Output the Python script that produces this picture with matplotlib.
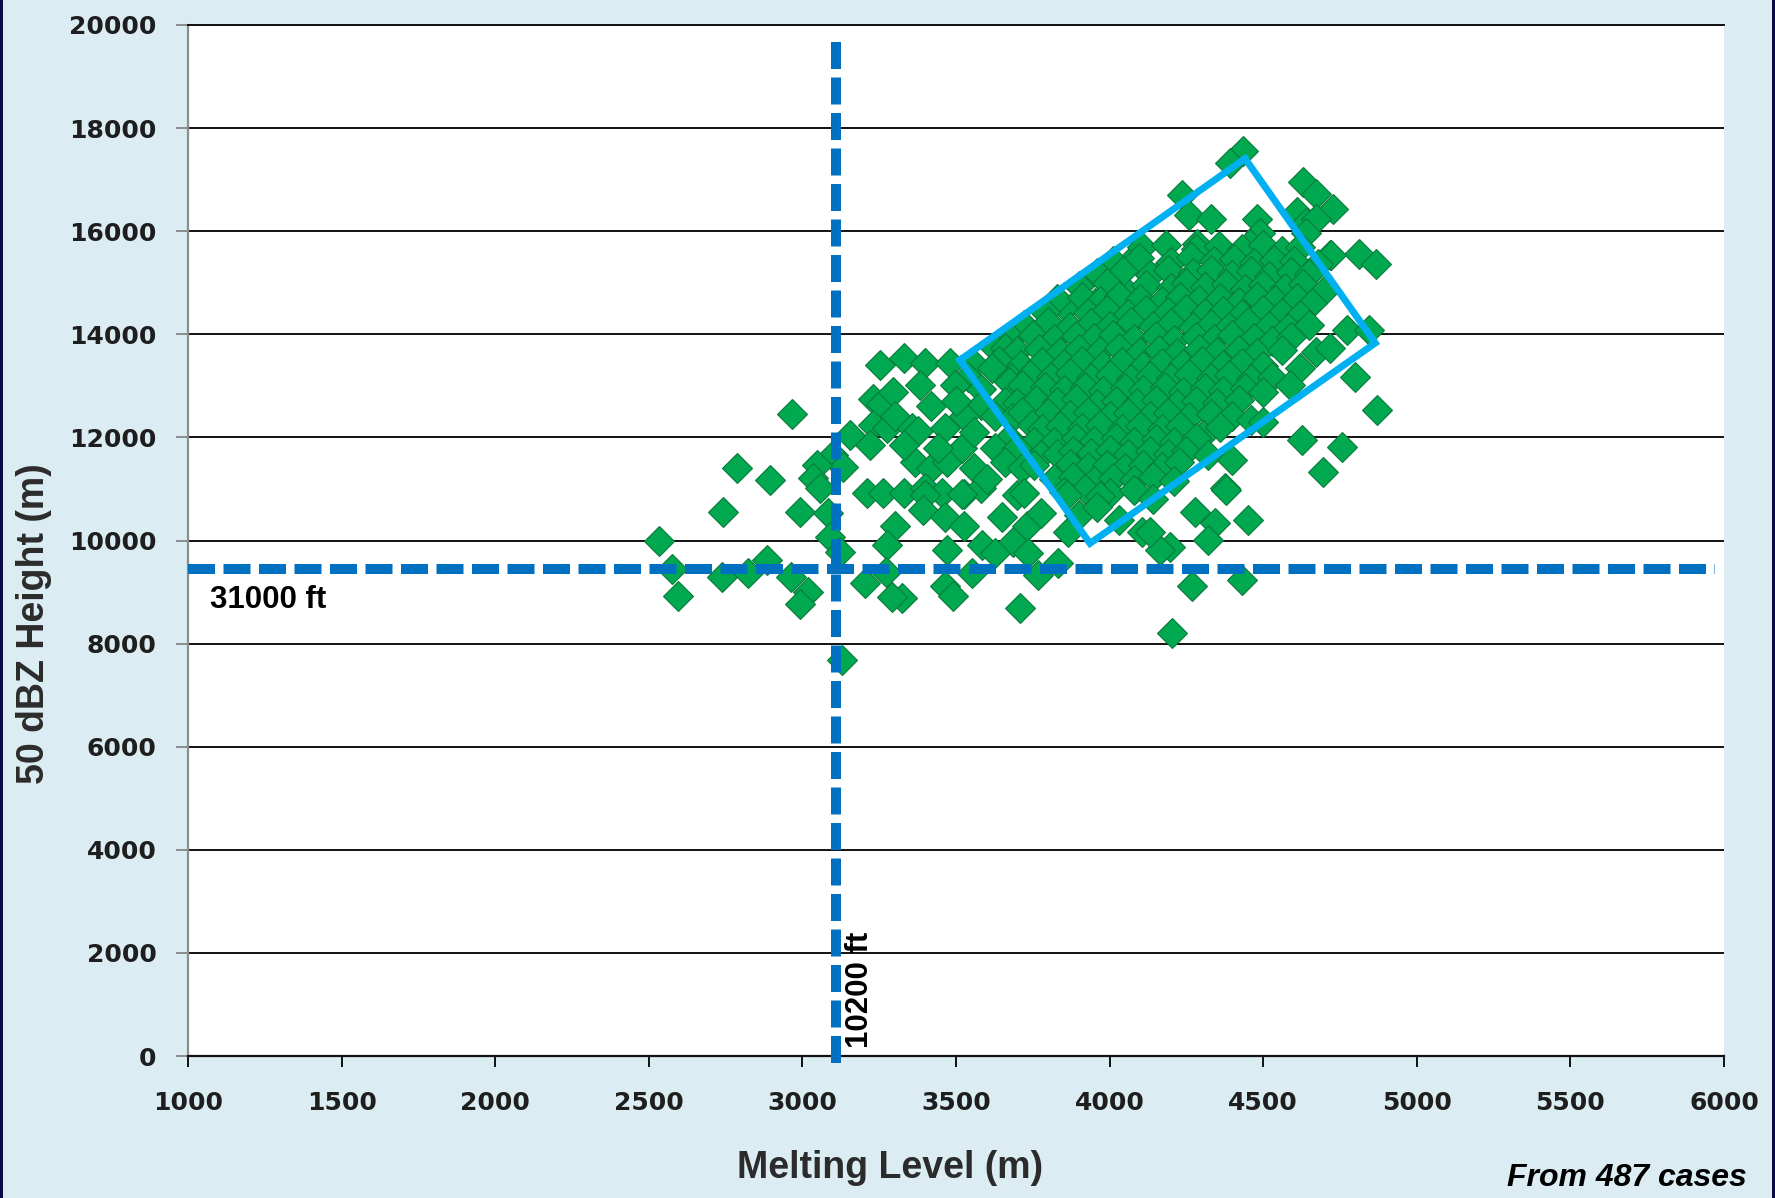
import matplotlib.pyplot as plt
from matplotlib.patches import Rectangle

# melting level (m) vs height of the 50 dBZ echo top (m), one diamond per case
core_pts = [
    (4433, 17560), (4393, 17330),
    (4629, 16950), (4673, 16730), (4235, 16700), (4728, 16440), (4610, 16380),
    (4260, 16310), (4330, 16240), (4481, 16240), (4640, 16155), (4673, 16240),
    (4640, 15960), (4489, 15960), (4456, 15760), (4283, 15760), (4190, 15340),
    (4717, 15540), (4813, 15560), (4868, 15365), (4083, 15500), (3995, 15100),
    (4050, 14860), (3952, 14600), (4106, 14600), (3800, 14500), (3855, 14530),
    (4105, 15690), (4185, 15740), (4280, 15660), (4355, 15720), (4430, 15650),
    (4500, 15730), (4560, 15610), (4720, 15540), (4620, 15700),
    (4010, 15420), (4095, 15480), (4200, 15400), (4265, 15500), (4340, 15430),
    (4405, 15470), (4470, 15380), (4535, 15450), (4600, 15420), (4680, 15360),
    (3960, 15180), (4045, 15230), (4130, 15150), (4190, 15250), (4270, 15190),
    (4330, 15240), (4400, 15160), (4460, 15220), (4520, 15130), (4590, 15210),
    (4650, 15170),
    (3900, 14930), (3990, 14990), (4120, 14960), (4200, 14900), (4250, 15000),
    (4310, 14920), (4380, 14970), (4440, 14880), (4500, 14950), (4570, 14900),
    (4630, 14980), (4700, 14860),
    (3830, 14680), (3910, 14720), (3970, 14650), (4030, 14740), (4100, 14690),
    (4170, 14640), (4230, 14730), (4290, 14670), (4360, 14710), (4420, 14630),
    (4480, 14720), (4540, 14660), (4610, 14700), (4660, 14600),
    (3790, 14440), (3930, 14420), (3990, 14480), (4060, 14400), (4120, 14470),
    (4190, 14430), (4250, 14490), (4310, 14410), (4370, 14460), (4430, 14390),
    (4500, 14470), (4560, 14420), (4620, 14380),
    (3720, 14180), (3800, 14230), (3870, 14150), (3940, 14220), (4000, 14170),
    (4070, 14240), (4140, 14160), (4200, 14210), (4270, 14140), (4330, 14200),
    (4390, 14150), (4450, 14230), (4520, 14170), (4580, 14120), (4650, 14190),
    (4773, 14090), (4846, 14090),
    (3680, 13930), (3750, 13980), (3820, 13900), (3890, 13960), (3950, 13920),
    (4010, 13990), (4080, 13910), (4150, 13970), (4210, 13890), (4280, 13950),
    (4340, 13900), (4400, 13980), (4470, 13920), (4530, 13870), (4590, 13940),
    (3627, 13740), (3660, 13740), (3700, 13680), (3770, 13720), (3840, 13650),
    (3900, 13710), (3970, 13670), (4030, 13730), (4100, 13660), (4160, 13700),
    (4220, 13640), (4290, 13720), (4350, 13660), (4420, 13700), (4480, 13630),
    (4560, 13690), (4673, 13650), (4717, 13740),
    (3560, 13430), (3640, 13480), (3710, 13400), (3780, 13460), (3850, 13420),
    (3910, 13490), (3980, 13410), (4040, 13470), (4110, 13390), (4170, 13450),
    (4240, 13420), (4300, 13480), (4370, 13400), (4430, 13440), (4500, 13380),
    (4620, 13350),
    (3540, 13180), (3616, 13350), (3680, 13150), (3740, 13210), (3810, 13170),
    (3870, 13240), (3940, 13160), (4000, 13220), (4070, 13140), (4130, 13200),
    (4200, 13160), (4260, 13230), (4330, 13150), (4390, 13210), (4460, 13130),
    (4530, 13180), (4588, 13015), (4798, 13170),
    (3580, 12940), (3671, 13080), (3715, 13015), (3790, 12970), (3850, 12920),
    (3920, 12980), (3980, 12900), (4050, 12960), (4110, 12910), (4180, 12970),
    (4240, 12890), (4310, 12950), (4370, 12900), (4440, 12960), (4500, 12880),
    (3582, 12620), (3660, 12690), (3700, 12660), (3760, 12720), (3830, 12680),
    (3890, 12740), (3960, 12650), (4020, 12710), (4090, 12670), (4150, 12730),
    (4220, 12640), (4280, 12700), (4350, 12660), (4420, 12720),
    (3627, 12420), (3682, 12380), (3715, 12490), (3800, 12480), (3870, 12430),
    (3930, 12490), (4000, 12410), (4060, 12470), (4130, 12420), (4190, 12480),
    (4260, 12400), (4330, 12450), (4400, 12410), (4460, 12330), (4870, 12530),
    (3748, 12250), (3780, 12170), (3840, 12230), (3910, 12180), (3970, 12240),
    (4040, 12160), (4100, 12220), (4170, 12170), (4230, 12230), (4305, 12050),
    (4360, 12200), (4500, 12290),
    (3671, 11985), (3755, 11920), (3820, 11920), (3890, 11980), (3950, 11930),
    (4020, 11990), (4080, 11910), (4150, 11970), (4210, 11920), (4280, 11980),
    (4625, 11940),
    (3627, 11790), (3700, 11790), (3778, 11655), (3830, 11680), (3880, 11740),
    (3940, 11690), (4000, 11750), (4060, 11670), (4130, 11730), (4190, 11680),
    (4250, 11740), (4320, 11650), (4755, 11810),
    (3660, 11520), (3715, 11410), (3755, 11460), (3870, 11490), (3930, 11420),
    (3990, 11470), (4050, 11400), (4110, 11460), (4170, 11430), (4227, 11520),
    (4400, 11570), (4695, 11330),
    (3820, 11190), (3880, 11240), (3950, 11160), (4010, 11220), (4080, 11170),
    (4140, 11230), (4210, 11150),
    (3850, 10940), (3920, 10990), (4000, 10920), (4080, 10970), (4375, 11020),
    (4140, 10800), (3700, 10890), (3722, 10930), (3860, 10890), (3970, 10860),
]

# cases spread out at the low-melting-level side
left_pts = [
    (3251, 13410), (3229, 12750), (3255, 12650), (3229, 12250), (3155, 12050),
    (3221, 11850), (3100, 11650), (3133, 11430), (3048, 11460), (3034, 11220),
    (3056, 11020), (3210, 10930), (3262, 10930), (3295, 12880), (3277, 12180),
    (3332, 13540), (3398, 13450), (3479, 13450), (3383, 13015), (3497, 13015),
    (3302, 12420), (3357, 12180), (3376, 12115), (3464, 12180), (3527, 12420),
    (3365, 11520), (3420, 11410), (3472, 11520), (3560, 11410), (3520, 11790),
    (3332, 10930), (3398, 11020), (3453, 10930), (3527, 10910), (3582, 11020),
    (3440, 11800), (3560, 12100), (3420, 12600), (3500, 12700), (3330, 11850),
    (3400, 10880), (3520, 10900), (3600, 11200),
    (3391, 10600), (3464, 10450), (3527, 10290), (3649, 10450), (3730, 10290),
    (3778, 10540), (3863, 10160), (4106, 10160), (3302, 10290), (3686, 9970),
    (3586, 9920), (3627, 9750), (3734, 9750), (3767, 9330), (3833, 9570),
    (3472, 9810), (3464, 9110), (3490, 8930), (3553, 9370), (3708, 8690),
    (3325, 8890), (3277, 9920), (3273, 9390), (3291, 8910), (3203, 9175),
    (3900, 10500), (3960, 10650), (4030, 10400),
]

# isolated cases away from the main cloud
outlier_pts = [
    (2533, 10000), (2577, 9440), (2595, 8930), (2738, 9290), (2787, 11400),
    (2740, 10560), (2894, 11170), (2965, 12450), (2993, 10560), (2823, 9370),
    (2886, 9620), (2964, 9290), (3019, 9000), (2993, 8760), (3082, 10540),
    (3089, 10075), (3122, 9770), (3129, 7680),
    (4380, 10975), (4279, 10560), (4342, 10340), (4451, 10400), (4320, 10010),
    (4197, 9880), (4164, 9810), (4268, 9110), (4430, 9240), (4202, 8210),
    (4131, 10160),
]

# outline drawn round the main cluster
box_x = [3513, 4441, 4865, 3936, 3513]
box_y = [13502, 17409, 13831, 9945, 13502]

# threshold lines, given in feet
FT_TO_M = 0.3048
melt_line_ft = 10200
height_line_ft = 31000

x_ticks = list(range(1000, 6001, 500))
y_ticks = list(range(0, 20001, 2000))

pts = core_pts + left_pts + outlier_pts
melt = [p[0] for p in pts]
h50 = [p[1] for p in pts]

bg = '#dbedf3'
fig = plt.figure(figsize=(17.75, 11.98), dpi=100, facecolor=bg)
ax = fig.add_axes([188 / 1775, 1 - 1056 / 1198, (1724 - 188) / 1775, (1056 - 25) / 1198])
ax.set_facecolor('white')

ax.set_xlim(1000, 6000)
ax.set_ylim(0, 20000)
ax.set_xticks(x_ticks)
ax.set_yticks(y_ticks)

ax.yaxis.grid(True, color='#111111', linewidth=1.4)
ax.set_axisbelow(True)

ax.spines['right'].set_visible(False)
ax.spines['top'].set_color('#111111')
ax.spines['top'].set_linewidth(1.4)
ax.spines['left'].set_color('#8c8c8c')
ax.spines['left'].set_linewidth(1.6)
ax.spines['bottom'].set_color('#111111')
ax.spines['bottom'].set_linewidth(1.6)

ax.tick_params(axis='y', direction='out', length=8.5, width=1.4, color='#8c8c8c', pad=14)
ax.tick_params(axis='x', direction='out', length=8, width=1.4, color='#111111', pad=17)
for lab in ax.get_xticklabels() + ax.get_yticklabels():
    lab.set_fontfamily('DejaVu Sans')
    lab.set_fontweight('bold')
    lab.set_fontsize(18)
    lab.set_color('#1e1e1e')

ax.plot(melt, h50, 'D', ms=15, mfc='#00a84f', mec='#0b7a3c', mew=0.8, zorder=3)

melt_line = melt_line_ft * FT_TO_M
height_line = height_line_ft * FT_TO_M
dash = (0, (2.7, 0.85))
ax.plot([melt_line, melt_line], [-130, 19700], color='#0070c0', lw=7.2,
        linestyle=dash, clip_on=False, zorder=4)
ax.plot([1000, 5970], [height_line, height_line], color='#0070c0', lw=7.2,
        linestyle=dash, zorder=4)

ax.plot(box_x, box_y, color='#00b0f0', lw=5, solid_joinstyle='miter', zorder=5)

ax.text(1070, 8846, '31000 ft', fontfamily='Liberation Sans', fontweight='bold',
        fontsize=22.5, color='black', ha='left', va='center', zorder=6)
ax.text(3188, 150, '10200 ft', fontfamily='Liberation Sans', fontweight='bold',
        fontsize=22.5, color='black', rotation=90, ha='center', va='bottom', zorder=6)

fig.text(890 / 1775, 1 - 1168 / 1198, 'Melting Level (m)', fontfamily='Liberation Sans',
         fontweight='bold', fontsize=27, color='#2b2b2b', ha='center', va='center')
fig.text(34 / 1775, 1 - 624 / 1198, '50 dBZ Height (m)', fontfamily='Liberation Sans',
         fontweight='bold', fontsize=27, color='#2b2b2b', rotation=90, ha='center', va='center')
fig.text(1747 / 1775, 1 - 1178 / 1198, 'From 487 cases', fontfamily='Liberation Sans',
         fontweight='bold', fontstyle='italic', fontsize=23, color='black',
         ha='right', va='center')

# dark frame edges of the slide
fig.patches.append(Rectangle((0, 0), 3 / 1775, 1, transform=fig.transFigure,
                             facecolor='#0a0a46', edgecolor='none'))
fig.patches.append(Rectangle((1 - 3 / 1775, 0), 3 / 1775, 1, transform=fig.transFigure,
                             facecolor='#0a0a46', edgecolor='none'))

fig.savefig('out.png', dpi=100, facecolor=bg)
